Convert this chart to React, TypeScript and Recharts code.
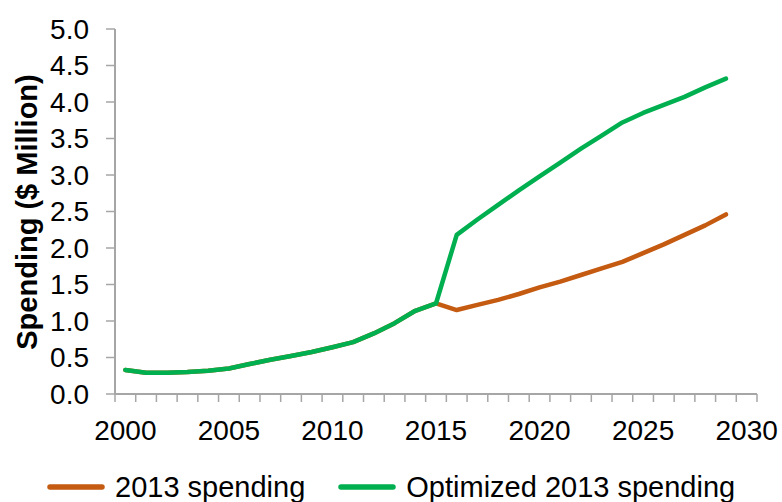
import React from 'react';
import { LineChart, Line, XAxis, YAxis, Legend } from 'recharts';

const YEARS = [2000, 2001, 2002, 2003, 2004, 2005, 2006, 2007, 2008, 2009, 2010, 2011, 2012, 2013, 2014, 2015, 2016, 2017, 2018, 2019, 2020, 2021, 2022, 2023, 2024, 2025, 2026, 2027, 2028, 2029, 2030];
const SPEND_2013 = [0.33, 0.29, 0.29, 0.3, 0.32, 0.35, 0.41, 0.47, 0.52, 0.575, 0.64, 0.71, 0.83, 0.97, 1.14, 1.24, 1.15, 1.22, 1.29, 1.37, 1.46, 1.54, 1.63, 1.72, 1.81, 1.93, 2.05, 2.18, 2.31, 2.46, null];
const OPTIMIZED = [0.33, 0.29, 0.29, 0.3, 0.32, 0.35, 0.41, 0.47, 0.52, 0.575, 0.64, 0.71, 0.83, 0.97, 1.14, 1.24, 2.18, 2.39, 2.59, 2.79, 2.98, 3.17, 3.36, 3.54, 3.72, 3.85, 3.96, 4.07, 4.2, 4.32, null];
const Y_TICKS = [0, 0.5, 1, 1.5, 2, 2.5, 3, 3.5, 4, 4.5, 5];
const SERIES_NAMES = ['2013 spending', 'Optimized 2013 spending'];
const Y_LABEL = 'Spending ($ Million)';

const data = YEARS.map((y, i) => ({ year: y, base: SPEND_2013[i], opt: OPTIMIZED[i] }));

const W = 782;
const H = 502;
const MARGIN = { top: 29, right: 25, bottom: 68, left: 0 };
const Y_AXIS_W = 115;
const X_AXIS_H = 40;
const PLOT_W = W - MARGIN.left - Y_AXIS_W - MARGIN.right;
const BW = PLOT_W / YEARS.length;
const FONT = '"Liberation Sans", Arial, sans-serif';
const AXIS_COLOR = '#a6a6a6';
const ORANGE = '#C55A11';
const GREEN = '#00B050';

const XTick = (props: any) => {
  const { x, y, payload, index } = props;
  const half = BW / 2;
  const year = Number(payload.value);
  return (
    <g>
      <line x1={x - half} x2={x - half} y1={y} y2={y + 8} stroke={AXIS_COLOR} strokeWidth={1.5} />
      {index === YEARS.length - 1 && (
        <line x1={x + half} x2={x + half} y1={y} y2={y + 8} stroke={AXIS_COLOR} strokeWidth={1.5} />
      )}
      {year % 5 === 0 && (
        <text x={x} y={y + 46} textAnchor="middle" fontSize={28} fontFamily={FONT} fill="#000">
          {year}
        </text>
      )}
    </g>
  );
};

const LegendContent = (props: any) => {
  const items = props.payload || [];
  return (
    <div style={{ display: 'flex', alignItems: 'center', height: 34, paddingLeft: 47, fontFamily: FONT, fontSize: 29, lineHeight: '34px', color: '#000' }}>
      {items.map((it: any, i: number) => (
        <div key={i} style={{ display: 'flex', alignItems: 'center', marginRight: 33 }}>
          <svg width={58} height={8} style={{ marginRight: 10 }}>
            <line x1={3} x2={55} y1={4} y2={4} stroke={it.color} strokeWidth={5.5} strokeLinecap="round" />
          </svg>
          <span style={{ whiteSpace: 'nowrap' }}>{it.value}</span>
        </div>
      ))}
    </div>
  );
};

export default function App() {
  return (
    <div style={{ position: 'absolute', left: 0, top: 0, width: W, height: H, background: '#fff' }}>
      <LineChart width={W} height={H} data={data} margin={MARGIN}>
        <XAxis
          dataKey="year"
          type="category"
          scale="band"
          interval={0}
          height={X_AXIS_H}
          tickSize={0}
          tickMargin={0}
          tickLine={false}
          axisLine={{ stroke: AXIS_COLOR, strokeWidth: 2 }}
          tick={<XTick />}
        />
        <YAxis
          width={Y_AXIS_W}
          domain={[0, 5]}
          ticks={Y_TICKS}
          interval={0}
          tickFormatter={(v: number) => v.toFixed(1)}
          tickSize={9}
          tickMargin={17}
          axisLine={{ stroke: AXIS_COLOR, strokeWidth: 2 }}
          tickLine={{ stroke: AXIS_COLOR, strokeWidth: 1.5 }}
          tick={{ fontSize: 28, fontFamily: FONT, fill: '#000' }}
          label={{
            content: () => (
              <text
                x={37}
                y={212}
                transform="rotate(-90, 37, 212)"
                textAnchor="middle"
                fontSize={29}
                fontWeight="bold"
                fontFamily={FONT}
                fill="#000"
              >
                {Y_LABEL}
              </text>
            ),
          }}
        />
        <Legend verticalAlign="middle" layout="horizontal" wrapperStyle={{ top: 470, left: 0, width: W, height: 34 }} content={<LegendContent />} />
        <Line
          type="linear"
          dataKey="base"
          name={SERIES_NAMES[0]}
          stroke={ORANGE}
          strokeWidth={4.5}
          dot={false}
          strokeLinecap="round"
          strokeLinejoin="round"
          isAnimationActive={false}
        />
        <Line
          type="linear"
          dataKey="opt"
          name={SERIES_NAMES[1]}
          stroke={GREEN}
          strokeWidth={4.5}
          dot={false}
          strokeLinecap="round"
          strokeLinejoin="round"
          isAnimationActive={false}
        />
      </LineChart>
    </div>
  );
}
